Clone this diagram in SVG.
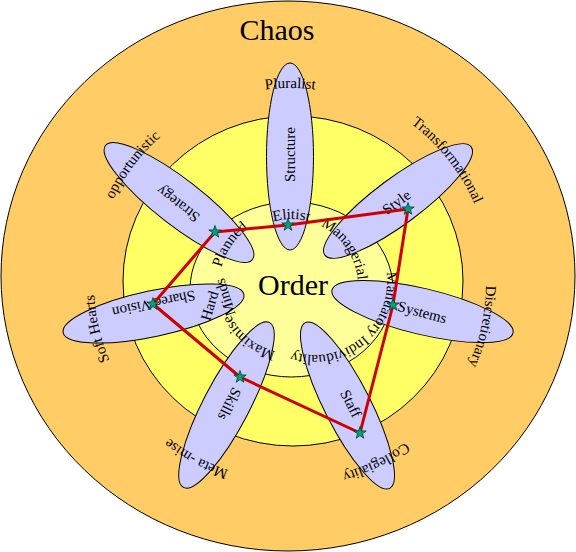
<svg xmlns="http://www.w3.org/2000/svg" xmlns:xlink="http://www.w3.org/1999/xlink" width="576" height="552" viewBox="0 0 576 552">
<style>
.bg{stroke:#000;stroke-width:1}
.petal{fill:#CCCCFF;stroke:#000;stroke-width:1}
.lbl{font-family:"Liberation Serif","Times New Roman",serif;font-size:15px;fill:#000}
.big{font-family:"Liberation Serif","Times New Roman",serif;font-size:30px;fill:#000}
.star{fill:#00A07A;stroke:#004030;stroke-width:0.8}
.tri{fill:none;stroke:#CC0000;stroke-width:3;stroke-linejoin:round}
</style>
<defs>
<path id="outerC" d="M 290 480 A 196 196 0 1 1 290 88 A 196 196 0 1 1 290 480"/>
<path id="outerC2" d="M 290 485 A 201 201 0 1 1 290 83 A 201 201 0 1 1 290 485"/>
<path id="innerC" d="M 291 353 A 67 67 0 1 1 291 219 A 67 67 0 1 1 291 353"/>
<path id="plannedC" d="M 291 358 A 72 72 0 1 1 291 214 A 72 72 0 1 1 291 358"/>
<path id="mandC" d="M 383.4 259.4 A 73 73 0 0 1 279.7 346.5"/>
<path id="starShape" d="M0,-6.5 L1.53,-2.1 L6.18,-2.01 L2.47,0.8 L3.82,5.26 L0,2.6 L-3.82,5.26 L-2.47,0.8 L-6.18,-2.01 L-1.53,-2.1 Z"/>
</defs>
<g id="chaos">
<ellipse class="bg" cx="288" cy="276" rx="287" ry="275" fill="#FFCC66"/>
<text class="big" x="277" y="40" text-anchor="middle">Chaos</text>
</g>
<g id="middle">
<ellipse class="bg" cx="293" cy="281" rx="170" ry="165" fill="#FFFF66"/>
</g>
<g id="order">
<ellipse class="bg" cx="291.5" cy="289.5" rx="101.5" ry="87.5" fill="#FFFF99"/>
<text class="big" x="293" y="295" text-anchor="middle">Order</text>
</g>
<g id="structure">
<ellipse class="petal" cx="290" cy="156.5" rx="93.5" ry="23.5" transform="rotate(-90 290 156.5)"/>
<text class="lbl" x="295" y="154.5" text-anchor="middle" transform="rotate(-90 295 154.5)">Structure</text>
</g>
<g id="style">
<ellipse class="petal" cx="398" cy="201" rx="91" ry="23" transform="rotate(-36.5 398 201)"/>
<text class="lbl" x="399.4" y="206.2" text-anchor="middle" transform="rotate(-36.5 399.4 206.2)">Style</text>
</g>
<g id="systems">
<ellipse class="petal" cx="422.5" cy="311.5" rx="93" ry="23" transform="rotate(13.4 422.5 311.5)"/>
<text class="lbl" x="421" y="317" text-anchor="middle" transform="rotate(15 421 317)">Systems</text>
</g>
<g id="staff">
<ellipse class="petal" cx="347.5" cy="405.5" rx="93" ry="23" transform="rotate(63 347.5 405.5)"/>
<text class="lbl" x="346.4" y="405.8" text-anchor="middle" transform="rotate(63 346.4 405.8)">Staff</text>
</g>
<g id="skills">
<ellipse class="petal" cx="226.5" cy="405" rx="93" ry="23" transform="rotate(117.6 226.5 405)"/>
<text class="lbl" x="225" y="401.7" text-anchor="middle" transform="rotate(117 225 401.7)">Skills</text>
</g>
<g id="sharedvision">
<ellipse class="petal" cx="153.5" cy="313.5" rx="92.4" ry="23" transform="rotate(168 153.5 313.5)"/>
<text class="lbl" x="152.7" y="299" text-anchor="middle" transform="rotate(168 152.7 299)">Shared Vision</text>
</g>
<g id="strategy">
<ellipse class="petal" cx="179" cy="202.5" rx="93" ry="23" transform="rotate(-142.2 179 202.5)"/>
<text class="lbl" x="181" y="200" text-anchor="middle" transform="rotate(-142.2 181 200)">Strategy</text>
</g>
<g id="outer-labels">
<text class="lbl"><textPath xlink:href="#outerC" href="#outerC" startOffset="615.8" text-anchor="middle">Pluralist</textPath></text>
<text class="lbl"><textPath xlink:href="#outerC2" href="#outerC2" startOffset="812.8" text-anchor="middle">Transformational</textPath></text>
<text class="lbl"><textPath xlink:href="#outerC" href="#outerC" startOffset="965.7" text-anchor="middle">Discretionary</textPath></text>
<text class="lbl"><textPath xlink:href="#outerC" href="#outerC" startOffset="1142.9" text-anchor="middle">Collegiality</textPath></text>
<text class="lbl"><textPath xlink:href="#outerC" href="#outerC" startOffset="96.5" text-anchor="middle">Meta -mise</textPath></text>
<text class="lbl"><textPath xlink:href="#outerC" href="#outerC" startOffset="263.1" text-anchor="middle">Soft Hearts</textPath></text>
<text class="lbl"><textPath xlink:href="#outerC" href="#outerC" startOffset="434.8" text-anchor="middle">opportunistic</textPath></text>
</g>
<g id="inner-labels">
<text class="lbl"><textPath xlink:href="#innerC" href="#innerC" startOffset="210.5" text-anchor="middle">Elitist</textPath></text>
<text class="lbl"><textPath xlink:href="#innerC" href="#innerC" startOffset="275" text-anchor="middle">Managerial</textPath></text>
<text class="lbl"><textPath xlink:href="#plannedC" href="#plannedC" startOffset="155.7" text-anchor="middle">Planned</textPath></text>
<text class="lbl"><textPath xlink:href="#innerC" href="#innerC" startOffset="45.5" text-anchor="middle">Maximise</textPath></text>
<text class="lbl"><textPath xlink:href="#mandC" href="#mandC" startOffset="46" text-anchor="middle">Mandatory</textPath></text>
<text class="lbl"><textPath xlink:href="#mandC" href="#mandC" startOffset="121.4" text-anchor="middle">Individuality</textPath></text>
<text class="lbl" x="214.3" y="307.2" text-anchor="middle" transform="rotate(-73 214.3 307.2)">Hard</text>
<text class="lbl" x="229.8" y="295.8" text-anchor="middle" transform="rotate(-108 229.8 295.8)">Minds</text>
</g>
<g id="connectors">
<polygon class="tri" points="215,232 288,225 408,209 393,305 360,433 240,377 153,304"/>
</g>
<g id="stars">
<use href="#starShape" xlink:href="#starShape" class="star" x="215" y="232"/>
<use href="#starShape" xlink:href="#starShape" class="star" x="288" y="225"/>
<use href="#starShape" xlink:href="#starShape" class="star" x="408" y="209"/>
<use href="#starShape" xlink:href="#starShape" class="star" x="393" y="305"/>
<use href="#starShape" xlink:href="#starShape" class="star" x="360" y="433"/>
<use href="#starShape" xlink:href="#starShape" class="star" x="240" y="377"/>
<use href="#starShape" xlink:href="#starShape" class="star" x="153" y="304"/>
</g>
</svg>
